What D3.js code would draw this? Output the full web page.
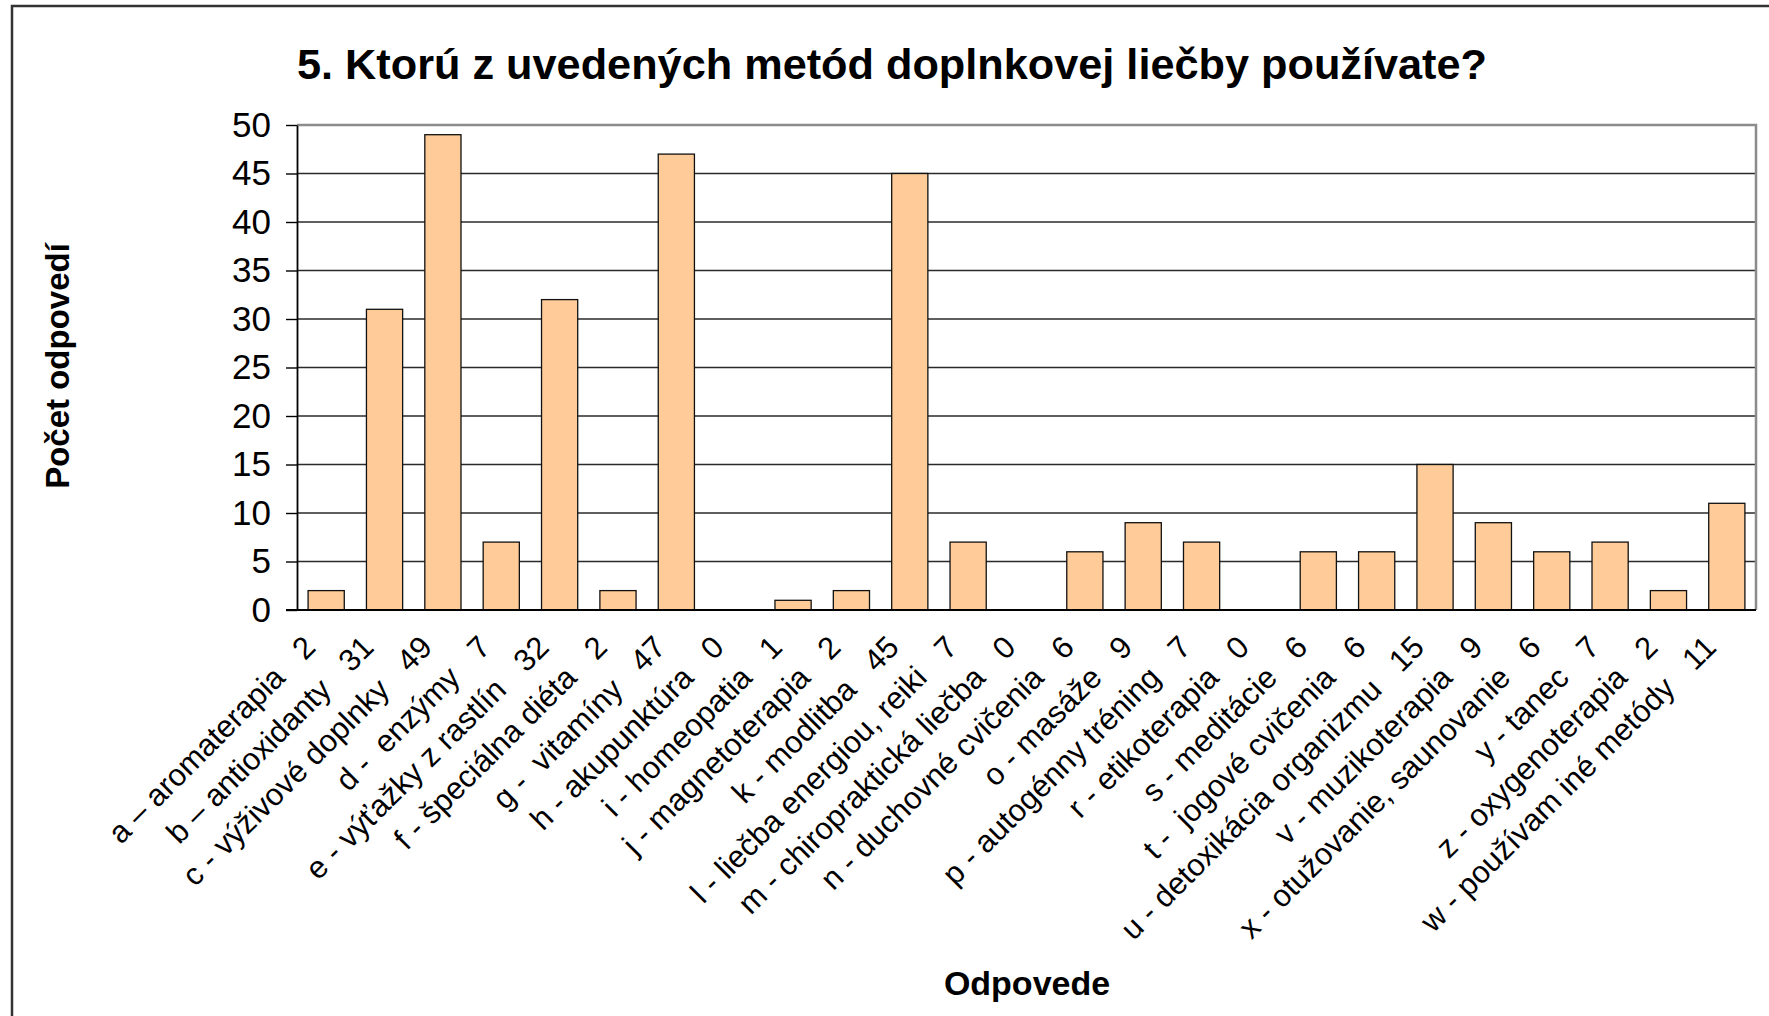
<!DOCTYPE html>
<html>
<head>
<meta charset="utf-8">
<script src="https://cdn.jsdelivr.net/npm/d3@7"></script>
<style>
  body { margin: 0; background: #fff; }
  text { font-family: "Liberation Sans", Arial, sans-serif; }
</style>
</head>
<body>
<div id="wrapper"></div>
<script>
// data
const categories = [
  "a – aromaterapia", "b – antioxidanty", "c - výživové doplnky", "d -  enzýmy",
  "e - výťažky z rastlín", "f - špeciálna diéta", "g -  vitamíny", "h - akupunktúra",
  "i - homeopatia", "j - magnetoterapia", "k - modlitba", "l - liečba energiou, reiki",
  "m - chiropraktická liečba", "n - duchovné cvičenia", "o - masáže", "p - autogénny tréning",
  "r - etikoterapia", "s - meditácie", "t -  jogové cvičenia", "u - detoxikácia organizmu",
  "v - muzikoterapia", "x - otužovanie, saunovanie", "y - tanec", "z - oxygenoterapia",
  "w - používam iné metódy"
];
const values = [2, 31, 49, 7, 32, 2, 47, 0, 1, 2, 45, 7, 0, 6, 9, 7, 0, 6, 6, 15, 9, 6, 7, 2, 11];
const yTicks = [0, 5, 10, 15, 20, 25, 30, 35, 40, 45, 50];

const title = "5. Ktorú z uvedených metód doplnkovej liečby používate?";
const yTitle = "Počet odpovedí";
const xTitle = "Odpovede";

const data = categories.map((c, i) => ({ name: c, value: values[i] }));

const dimensions = {
  width: 1769,
  height: 1016,
  margin: { top: 125, right: 10, bottom: 406, left: 297 },
};
dimensions.boundedWidth = dimensions.width - dimensions.margin.left - dimensions.margin.right - 3;
dimensions.boundedHeight = dimensions.height - dimensions.margin.top - dimensions.margin.bottom;

const svg = d3.select("#wrapper")
  .append("svg")
  .attr("width", dimensions.width)
  .attr("height", dimensions.height);

// outer chart border (runs off the right and bottom of the picture)
svg.append("rect")
  .attr("x", 12).attr("y", 6)
  .attr("width", 1800).attr("height", 1100)
  .attr("fill", "#fff")
  .attr("stroke", "#333")
  .attr("stroke-width", 2.5);

const bounds = svg.append("g")
  .attr("transform", `translate(${dimensions.margin.left},${dimensions.margin.top})`);

const xScale = d3.scaleBand()
  .domain(categories)
  .range([0, dimensions.boundedWidth])
  .paddingInner(0.38)
  .paddingOuter(0.19);

const yScale = d3.scaleLinear()
  .domain([0, 50])
  .range([dimensions.boundedHeight, 0]);

// gridlines
bounds.append("g")
  .selectAll("line")
  .data(yTicks.filter(d => d > 0 && d < 50))
  .join("line")
  .attr("x1", 0)
  .attr("x2", dimensions.boundedWidth)
  .attr("y1", d => yScale(d))
  .attr("y2", d => yScale(d))
  .attr("stroke", "#2a2a2a")
  .attr("stroke-width", 1.4);

// plot area border top / right
bounds.append("path")
  .attr("d", `M0,${yScale(50)}H${dimensions.boundedWidth}V${yScale(0)}`)
  .attr("fill", "none")
  .attr("stroke", "#8c8c8c")
  .attr("stroke-width", 2.5);

// bars
bounds.append("g")
  .selectAll("rect")
  .data(data.filter(d => d.value > 0))
  .join("rect")
  .attr("x", d => xScale(d.name))
  .attr("y", d => yScale(d.value))
  .attr("width", xScale.bandwidth())
  .attr("height", d => yScale(0) - yScale(d.value))
  .attr("fill", "#ffcc99")
  .attr("stroke", "#111")
  .attr("stroke-width", 1.3);

// y axis
const yAxis = bounds.append("g")
  .call(d3.axisLeft(yScale).tickValues(yTicks).tickSize(11).tickPadding(15).tickSizeOuter(0));
yAxis.select(".domain").attr("stroke", "#000").attr("stroke-width", 1.8);
yAxis.selectAll(".tick line").attr("stroke", "#000").attr("stroke-width", 1.4);
yAxis.selectAll(".tick text")
  .attr("font-size", 35)
  .attr("fill", "#000")
  .attr("font-family", "Liberation Sans, Arial, sans-serif");

// x axis baseline
bounds.append("line")
  .attr("x1", -11)
  .attr("x2", dimensions.boundedWidth)
  .attr("y1", yScale(0))
  .attr("y2", yScale(0))
  .attr("stroke", "#000")
  .attr("stroke-width", 2);

// rotated category labels with the value at the end
bounds.append("g")
  .selectAll("text")
  .data(data)
  .join("text")
  .attr("transform", d =>
    `translate(${xScale(d.name) + xScale.bandwidth() / 2 - 9},${yScale(0) + 39}) rotate(-45)`)
  .attr("text-anchor", "end")
  .attr("font-size", 31)
  .attr("fill", "#000")
  .style("white-space", "pre")
  .text(d => `${d.name}   ${d.value}`);

// titles
svg.append("text")
  .attr("x", 297)
  .attr("y", 79)
  .attr("font-size", 42)
  .attr("font-weight", "bold")
  .attr("textLength", 1190)
  .attr("lengthAdjust", "spacingAndGlyphs")
  .text(title);

svg.append("text")
  .attr("transform", "translate(69,366) rotate(-90)")
  .attr("text-anchor", "middle")
  .attr("font-size", 33)
  .attr("font-weight", "bold")
  .text(yTitle);

svg.append("text")
  .attr("x", 1027)
  .attr("y", 995)
  .attr("text-anchor", "middle")
  .attr("font-size", 34)
  .attr("font-weight", "bold")
  .text(xTitle);
</script>
</body>
</html>
